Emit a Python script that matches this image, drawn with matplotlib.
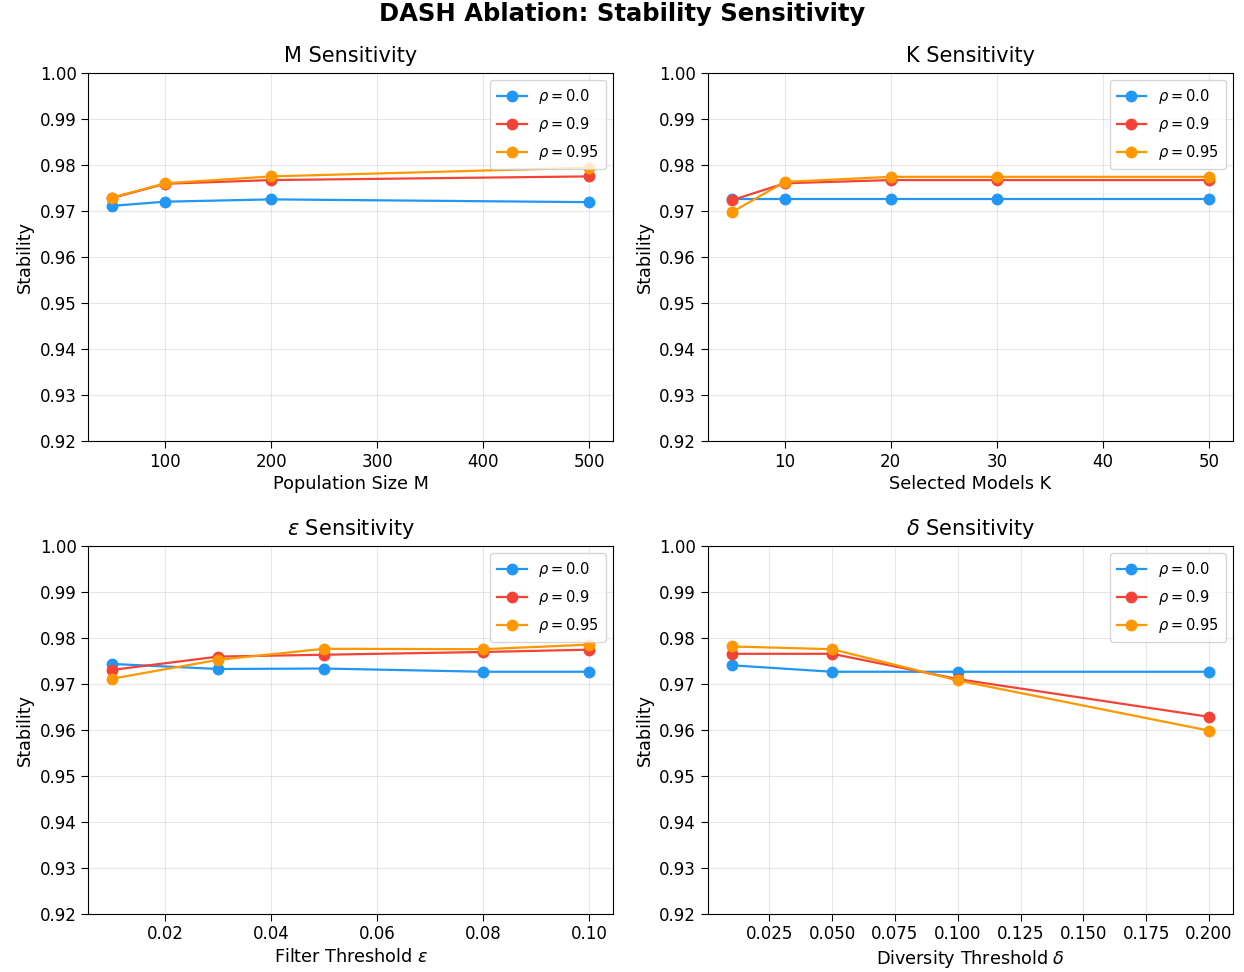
import matplotlib
matplotlib.use("Agg")
import matplotlib.pyplot as plt

rho_labels = [r"$\rho=0.0$", r"$\rho=0.9$", r"$\rho=0.95$"]
colors = ["#2196F3", "#F44336", "#FF9800"]

m_values = [50, 100, 200, 500]
m_stab = [
    [0.9711, 0.9720, 0.9725, 0.9719],
    [0.9728, 0.9759, 0.9767, 0.9775],
    [0.9729, 0.9760, 0.9775, 0.9794],
]

k_values = [5, 10, 20, 30, 50]
k_stab = [
    [0.9725, 0.9725, 0.9725, 0.9725, 0.9725],
    [0.9723, 0.9760, 0.9767, 0.9767, 0.9767],
    [0.9697, 0.9763, 0.9774, 0.9774, 0.9774],
]

eps_values = [0.01, 0.03, 0.05, 0.08, 0.10]
eps_stab = [
    [0.9743, 0.9732, 0.9733, 0.9726, 0.9726],
    [0.9730, 0.9759, 0.9763, 0.9769, 0.9774],
    [0.9711, 0.9752, 0.9776, 0.9775, 0.9785],
]

delta_values = [0.01, 0.05, 0.10, 0.20]
delta_stab = [
    [0.9740, 0.9726, 0.9726, 0.9726],
    [0.9765, 0.9765, 0.9710, 0.9628],
    [0.9781, 0.9775, 0.9707, 0.9598],
]

panels = [
    (m_values, m_stab, "M Sensitivity", "Population Size M"),
    (k_values, k_stab, "K Sensitivity", "Selected Models K"),
    (eps_values, eps_stab, r"$\epsilon$ Sensitivity", r"Filter Threshold $\epsilon$"),
    (delta_values, delta_stab, r"$\delta$ Sensitivity", r"Diversity Threshold $\delta$"),
]

fig, axes = plt.subplots(2, 2, figsize=(12.44, 9.72), dpi=100)
fig.subplots_adjust(left=0.071, right=0.991, top=0.925, bottom=0.06, wspace=0.18, hspace=0.285)

for ax, (xs, series, title, xlabel) in zip(axes.flat, panels):
    for ys, c, lab in zip(series, colors, rho_labels):
        ax.plot(xs, ys, "-o", color=c, label=lab, linewidth=1.6, markersize=7.5)
    ax.set_ylim(0.92, 1.0)
    ax.set_title(title, fontsize=15, pad=8)
    ax.set_xlabel(xlabel, fontsize=12.7, labelpad=3)
    ax.set_ylabel("Stability", fontsize=12.7, labelpad=4)
    ax.tick_params(labelsize=12, length=5, pad=3.5)
    ax.grid(True, alpha=0.3)
    ax.legend(fontsize=10.5, loc="upper right", labelspacing=0.6, borderpad=0.5)

fig.suptitle("DASH Ablation: Stability Sensitivity", fontsize=17.5, fontweight="bold", y=0.998)
fig.savefig("out.png", dpi=100)
